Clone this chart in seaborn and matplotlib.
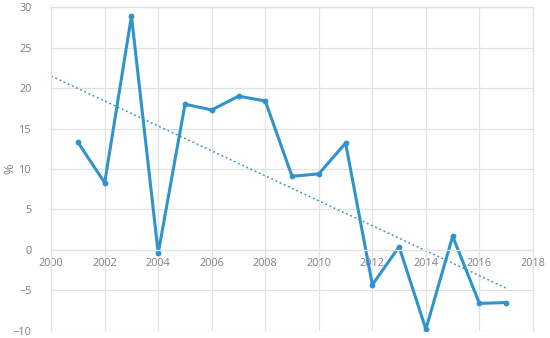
import numpy as np
import pandas as pd
import matplotlib
matplotlib.use("Agg")
import matplotlib.pyplot as plt
import seaborn as sns

# values
years = [2001, 2002, 2003, 2004, 2005, 2006, 2007, 2008, 2009,
         2010, 2011, 2012, 2013, 2014, 2015, 2016, 2017]
values = [13.3, 8.3, 28.9, -0.4, 18.0, 17.3, 19.0, 18.4, 9.1,
          9.4, 13.2, -4.3, 0.4, -9.8, 1.7, -6.6, -6.5]
x_ticks = [2000, 2002, 2004, 2006, 2008, 2010, 2012, 2014, 2016, 2018]
y_ticks = [-10, -5, 0, 5, 10, 15, 20, 25, 30]

df = pd.DataFrame({"year": years, "pct": values})

# linear trendline (excel style, backcast to 2000)
slope, intercept = np.polyfit(df["year"], df["pct"], 1)
trend = pd.DataFrame({"year": [2000, 2017]})
trend["pct"] = slope * trend["year"] + intercept

sns.set_style("white")
plt.rcParams["font.family"] = ["Open Sans", "DejaVu Sans"]

blue = "#2F93CD"
grid_c = "#E2E2E2"
text_c = "#7F7F7F"

fig = plt.figure(figsize=(5.5, 3.38), dpi=100)
ax = fig.add_axes([0.093, 0.021, 0.876, 0.958])

sns.lineplot(data=df, x="year", y="pct", ax=ax, color=blue, linewidth=2.2,
             marker="o", markersize=4.2, markeredgewidth=0)
sns.lineplot(data=trend, x="year", y="pct", ax=ax, color=blue, linewidth=1.1,
             linestyle=(0, (1.2, 1.8)))

ax.set_xlim(2000, 2018)
ax.set_ylim(-10, 30)
ax.set_xticks(x_ticks)
ax.set_yticks(y_ticks)
ax.grid(True, color=grid_c, linewidth=0.9)
ax.set_axisbelow(True)

for s in ax.spines.values():
    s.set_color(grid_c)
    s.set_linewidth(0.9)
ax.spines["bottom"].set_position(("data", 0))

ax.tick_params(axis="both", length=0, labelsize=7.8, labelcolor=text_c)
ax.tick_params(axis="x", pad=6)
ax.tick_params(axis="y", pad=14)

ax.set_xlabel("")
ax.set_ylabel("%", fontsize=9, color=text_c)
ax.yaxis.set_label_coords(-0.072, 0.5)

fig.savefig("out.png", dpi=100)
